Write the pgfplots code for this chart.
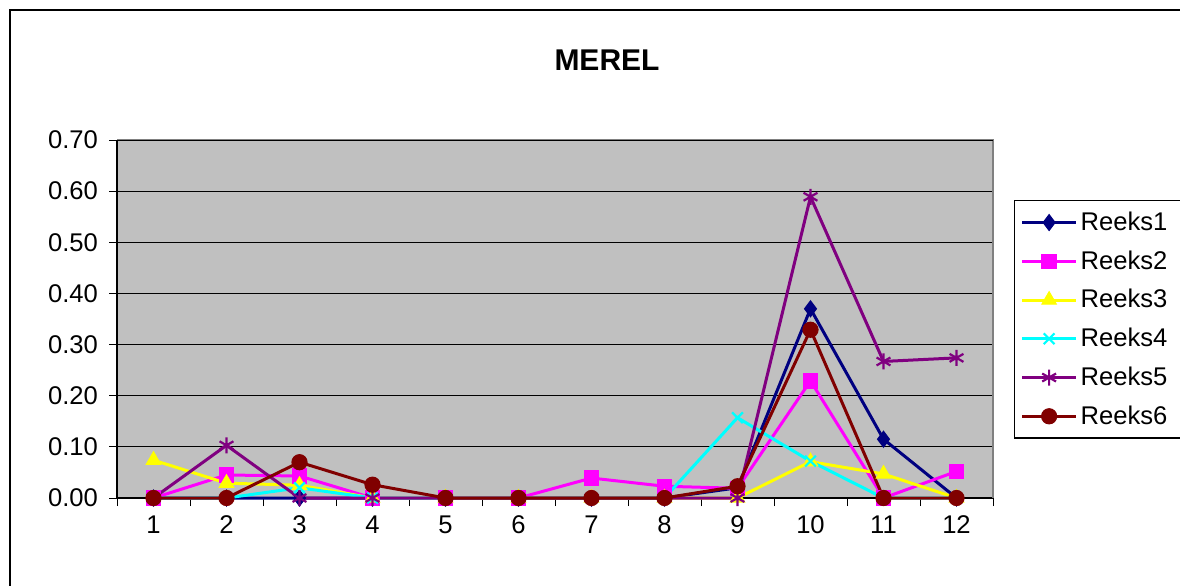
\documentclass[border=0pt]{standalone}
\usepackage{fontspec}
\setmainfont{Liberation Sans}
\usepackage{pgfplots}
\pgfplotsset{compat=1.18}
\definecolor{rnavy}{RGB}{0,0,128}
\definecolor{rmag}{RGB}{255,0,255}
\definecolor{ryel}{RGB}{255,255,0}
\definecolor{rcyan}{RGB}{0,255,255}
\definecolor{rpurp}{RGB}{128,0,128}
\definecolor{rdred}{RGB}{128,0,0}
\definecolor{plotbg}{RGB}{192,192,192}
\definecolor{bordergray}{RGB}{128,128,128}
\begin{document}
\begin{tikzpicture}
\useasboundingbox (0,0) rectangle (590pt,292.5pt);
\fill[white] (0,0) rectangle (590pt,292.5pt);
\draw[black, line width=0.7pt] (5pt,-10pt) rectangle (600pt,287.5pt);
\node[font=\bfseries\fontsize{15}{18}\selectfont] at (303.5pt,262.5pt) {MEREL};
\begin{axis}[
  at={(58.5pt,43.5pt)}, anchor=south west,
  scale only axis, width=438pt, height=179pt,
  xmin=0.5, xmax=12.5, ymin=0, ymax=0.7,
  axis background/.style={fill=plotbg},
  axis x line*=bottom, axis y line*=left,
  axis line style={black, line width=0.6pt},
  xtick={1,2,3,4,5,6,7,8,9,10,11,12},
  minor xtick={0.5,1.5,2.5,3.5,4.5,5.5,6.5,7.5,8.5,9.5,10.5,11.5,12.5},
  major x tick style={draw=none},
  minor x tick style={black, line width=0.5pt},
  ytick={0,0.1,0.2,0.3,0.4,0.5,0.6,0.7},
  y tick style={black, line width=0.5pt},
  tick align=outside,
  major tick length=4pt, minor tick length=4pt,
  ymajorgrids, major grid style={black, line width=0.5pt},
  tick label style={font=\fontsize{12.8}{15}\selectfont},
  /pgf/number format/assume math mode=true,
  yticklabel style={/pgf/number format/fixed, /pgf/number format/fixed zerofill, /pgf/number format/precision=2, xshift=-2pt},
  xticklabel style={yshift=-1.5pt},
  clip=false,
  every axis plot/.append style={line width=1.5pt},
  legend cell align=left,
  legend style={at={(1.024,0.832)}, anchor=north west, draw=black, line width=0.6pt, fill=white,
    font=\fontsize{12.8}{15}\selectfont, row sep=5.6pt, inner xsep=3pt, inner ysep=4pt,
    nodes={text width=46pt, inner sep=1.5pt}},
  legend image code/.code={\draw[mark repeat=2,mark phase=2] plot coordinates {(0pt,0pt)(13.5pt,0pt)(27pt,0pt)};},
]
\addplot[rnavy, mark=diamond*, mark size=4pt, mark options={solid, fill=rnavy, draw=rnavy, line width=0.5pt}] coordinates {
(1,0)(2,0)(3,0)(4,0)(5,0)(6,0)(7,0)(8,0)(9,0.02)(10,0.37)(11,0.115)(12,0)};
\addlegendentry{Reeks1}
\addplot[rmag, mark=square*, mark size=3.6pt, mark options={solid, fill=rmag, draw=rmag, line width=0.5pt}] coordinates {
(1,0)(2,0.045)(3,0.043)(4,0)(5,0)(6,0)(7,0.039)(8,0.023)(9,0.019)(10,0.229)(11,0)(12,0.052)};
\addlegendentry{Reeks2}
\addplot[ryel, mark=triangle*, mark size=4.2pt, mark options={solid, fill=ryel, draw=ryel, line width=0.5pt}] coordinates {
(1,0.074)(2,0.029)(3,0.025)(4,0)(5,0)(6,0)(7,0)(8,0)(9,0)(10,0.071)(11,0.047)(12,0)};
\addlegendentry{Reeks3}
\addplot[rcyan, mark=x, mark size=3.8pt, mark options={solid, draw=rcyan, line width=1.1pt}] coordinates {
(1,0)(2,0)(3,0.02)(4,0)(5,0)(6,0)(7,0)(8,0)(9,0.157)(10,0.072)(11,0)(12,0)};
\addlegendentry{Reeks4}
\addplot[rpurp, mark=asterisk, mark size=4pt, mark options={solid, draw=rpurp, line width=1.1pt}] coordinates {
(1,0)(2,0.103)(3,0)(4,0)(5,0)(6,0)(7,0)(8,0)(9,0)(10,0.589)(11,0.267)(12,0.274)};
\addlegendentry{Reeks5}
\addplot[rdred, mark=*, mark size=3.8pt, mark options={solid, fill=rdred, draw=rdred, line width=0.5pt}] coordinates {
(1,0)(2,0)(3,0.07)(4,0.026)(5,0)(6,0)(7,0)(8,0)(9,0.023)(10,0.329)(11,0)(12,0)};
\addlegendentry{Reeks6}
\draw[bordergray, line width=1pt] (rel axis cs:0,1) -- (rel axis cs:1,1) -- (rel axis cs:1,0);
\draw[black, line width=0.5pt] (rel axis cs:0,1) -- (rel axis cs:1,1);
\end{axis}
\end{tikzpicture}
\end{document}
